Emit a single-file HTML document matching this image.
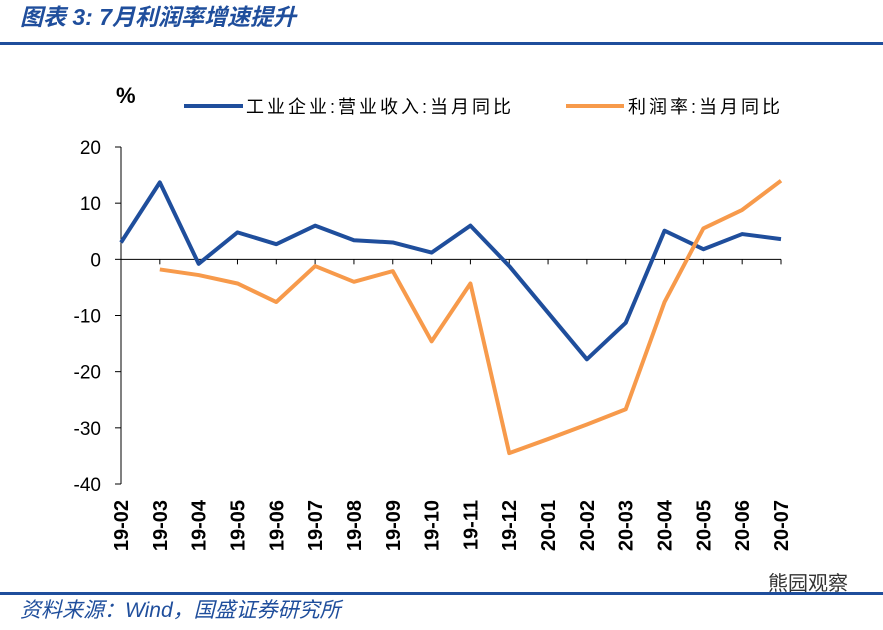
<!DOCTYPE html>
<html><head><meta charset="utf-8"><style>
body{margin:0;width:883px;height:625px;background:#fff;overflow:hidden;font-family:"Liberation Sans","Noto Sans CJK SC",sans-serif}
</style></head><body>
<svg width="883" height="625" xmlns="http://www.w3.org/2000/svg">
<text x="20" y="25" font-size="23" font-style="italic" font-weight="bold" fill="#1f4e9c">图表 3:  7月利润率增速提升</text>
<rect x="0" y="42" width="883" height="3" fill="#1f4e9c"/>
<text x="116" y="103" font-size="22" font-weight="bold">%</text>
<g>
<line x1="184" y1="106" x2="243" y2="106" stroke="#1f4e9c" stroke-width="4"/>
<text x="246" y="113" font-size="18" letter-spacing="3">工业企业:营业收入:当月同比</text>
<line x1="566" y1="106" x2="624" y2="106" stroke="#f79a4b" stroke-width="4"/>
<text x="628" y="113" font-size="18" letter-spacing="3">利润率:当月同比</text>
</g>
<g id="axes"></g>
<g id="series"></g>
<rect x="0" y="592" width="883" height="3" fill="#1f4e9c"/>
<text x="20" y="617" font-size="21" font-style="italic" fill="#1f4e9c">资料来源：Wind，国盛证券研究所</text>
<text x="768" y="590" font-size="20" fill="#333">熊园观察</text>
</svg>
<script>
const categories=["19-02","19-03","19-04","19-05","19-06","19-07","19-08","19-09","19-10","19-11","19-12","20-01","20-02","20-03","20-04","20-05","20-06","20-07"];
const revenue=[3,13.7,-0.8,4.8,2.7,6,3.4,3,1.2,6,-1.2,-9.5,-17.8,-11.3,5.1,1.8,4.5,3.6];
const profit=[null,-1.8,-2.8,-4.3,-7.6,-1.2,-4,-2.1,-14.6,-4.3,-34.5,-32,-29.4,-26.7,-7.6,5.5,8.8,14];
const yTicks=[20,10,0,-10,-20,-30,-40];
const NS="http://www.w3.org/2000/svg";
const x0=121,x1=781,yTop=147,yBot=484,vMax=20,vMin=-40;
function xs(i){return x0+i*(x1-x0)/(categories.length-1);}
function ys(v){return yTop+(vMax-v)*(yBot-yTop)/(vMax-vMin);}
function mk(t,a,p){const e=document.createElementNS(NS,t);for(const k in a)e.setAttribute(k,a[k]);p.appendChild(e);return e;}
const ax=document.getElementById('axes');
const ya=mk('line',{x1:x0,y1:yTop,x2:x0,y2:yBot,stroke:'#000','stroke-width':1},ax);


yTicks.forEach(v=>{
 const t=mk('line',{x1:x0-6,y1:ys(v),x2:x0,y2:ys(v),stroke:'#000'},ax);
 
 
 const l=mk('text',{x:x0-20,y:ys(v)+7,'font-size':19,'text-anchor':'end'},ax);
 l.textContent=v;
 
 
});
const xa=mk('line',{x1:x0,y1:ys(0),x2:x1,y2:ys(0),stroke:'#000'},ax);


categories.forEach((c,i)=>{
 const t=mk('line',{x1:xs(i),y1:ys(0),x2:xs(i),y2:ys(0)+5,stroke:'#000'},ax);
 
 
 const l=mk('text',{x:0,y:0,'font-size':20,'font-weight':'bold','text-anchor':'end',transform:`translate(${xs(i)+7},500) rotate(-90)`},ax);
 l.textContent=c;
 
 
});
const sg=document.getElementById('series');
function path(arr){let d='',s=false;arr.forEach((v,i)=>{if(v===null){s=false;return;}d+=(s?'L':'M')+xs(i)+' '+ys(v)+' ';s=true;});return d;}
const p1=mk('path',{d:path(revenue),fill:'none',stroke:'#1f4e9c','stroke-width':4,'stroke-linejoin':'round'},sg);


const p2=mk('path',{d:path(profit),fill:'none',stroke:'#f79a4b','stroke-width':4,'stroke-linejoin':'round'},sg);


</script>
</body></html>
